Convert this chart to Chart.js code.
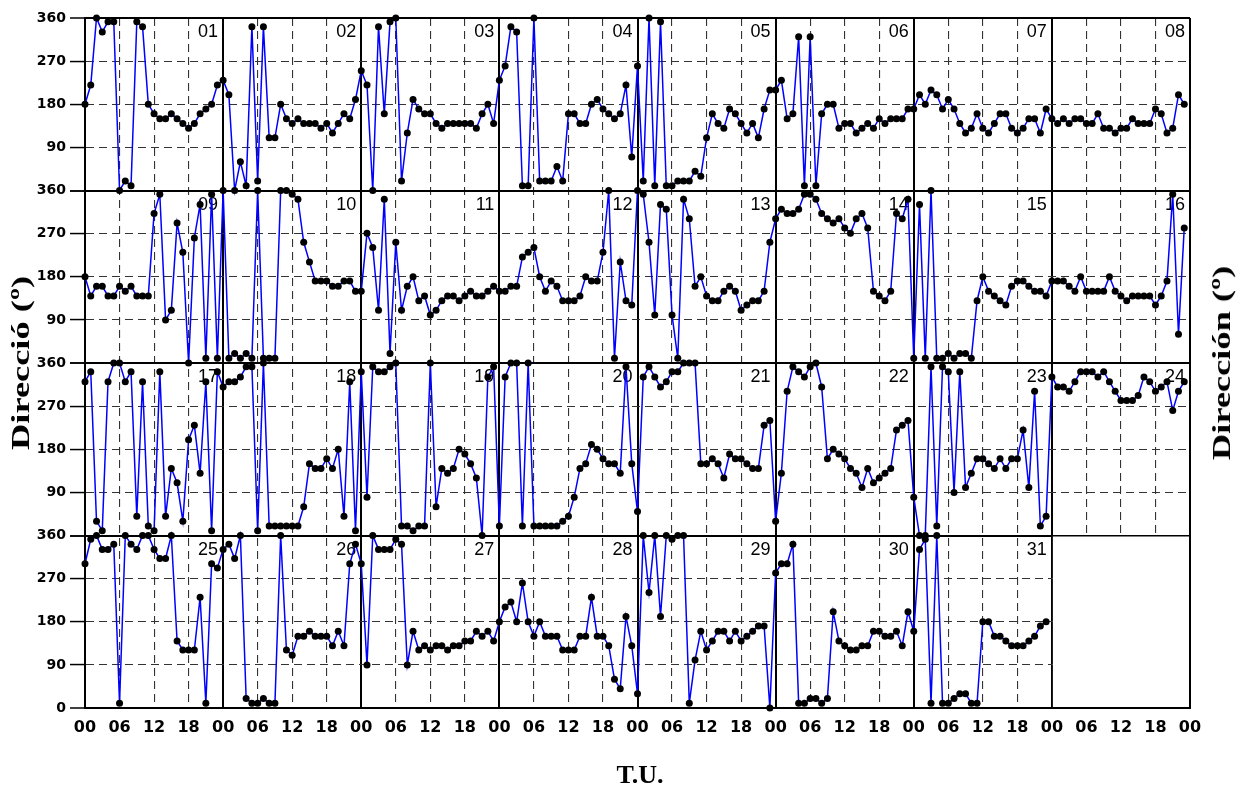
<!DOCTYPE html>
<html>
<head>
<meta charset="utf-8">
<script src="https://cdn.jsdelivr.net/npm/chart.js@4.4.0/dist/chart.umd.min.js"></script>
<style>
  body { margin: 0; background: #fff; }
  #wrap { position: relative; width: 1251px; height: 790px; }
  .title { position: absolute; font: bold 26px "Liberation Serif", "Times New Roman", serif; white-space: nowrap; color: #000; }
  #yl { left: 21px; top: 363px; transform: translate(-50%, -50%) rotate(-90deg) scaleX(1.4); }
  #yr { left: 1222px; top: 363px; transform: translate(-50%, -50%) rotate(-90deg) scaleX(1.4); }
  #xl { left: 640px; top: 775px; transform: translate(-50%, -50%); }
</style>
</head>
<body>
<div id="wrap">
  <canvas id="chart" width="1251" height="790"></canvas>
  <div class="title" id="yl">Direcció (º)</div>
  <div class="title" id="yr">Dirección (º)</div>
  <div class="title" id="xl">T.U.</div>
</div>
<script>
const hourLabels = ['00', '06', '12', '18'];
const dayNames = ['01','02','03','04','05','06','07','08','09','10','11','12','13','14','15','16',
                  '17','18','19','20','21','22','23','24','25','26','27','28','29','30','31'];

// wind direction (degrees), one value per hour, 00..23 T.U.
const d01 = [180,220,360,331,352,352,0,20,10,352,342,180,160,150,150,160,150,140,130,140,160,170,180,220];
const d02 = [230,200,0,60,10,342,20,342,110,110,180,150,140,150,140,140,140,130,140,120,140,160,150,190];
const d03 = [250,220,0,342,160,352,360,20,120,190,170,160,160,140,130,140,140,140,140,140,130,160,180,140];
const d04 = [230,260,342,331,10,10,360,20,20,20,50,20,160,160,140,140,180,190,170,160,150,160,220,70];
const d05 = [260,20,360,10,352,10,10,20,20,20,40,30,110,160,140,130,170,160,140,120,140,110,170,210];
const d06 = [210,230,150,160,321,10,321,10,160,180,180,130,140,140,120,130,140,130,150,140,150,150,150,170];
const d07 = [170,200,180,210,200,170,190,170,140,120,130,160,130,120,140,160,160,130,120,130,150,150,120,170];
const d08 = [150,140,150,140,150,150,140,140,160,130,130,120,130,130,150,140,140,140,170,160,120,130,200,180];
const d09 = [180,140,160,160,140,140,160,150,160,140,140,140,312,352,90,110,292,231,0,261,331,10,352,10];
const d10 = [360,10,20,10,20,10,360,10,10,10,360,360,352,342,252,211,171,171,171,160,160,171,171,150];
const d11 = [150,271,241,110,342,20,252,110,160,180,130,140,100,110,130,140,140,130,140,150,140,140,150,160];
const d12 = [150,150,160,160,221,231,241,180,150,171,160,130,130,130,140,180,171,171,231,360,10,211,130,121];
const d13 = [360,352,252,100,331,321,100,10,342,301,160,180,140,130,130,150,160,150,110,121,130,130,150,252];
const d14 = [301,321,312,312,321,352,352,342,312,301,292,301,282,271,301,312,282,150,140,130,150,312,301,342];
const d15 = [10,331,10,360,10,10,20,10,20,20,10,130,180,150,140,130,121,160,171,171,160,150,150,140];
const d16 = [171,171,171,160,150,180,150,150,150,150,180,150,140,130,140,140,140,140,121,140,171,352,60,282];
const d17 = [321,342,30,10,321,360,360,321,342,40,321,20,10,342,40,140,110,30,200,230,130,321,10,342];
const d18 = [310,321,321,331,352,352,10,360,20,20,20,20,20,20,60,150,140,140,160,140,180,40,321,10];
const d19 = [342,80,352,342,342,352,360,20,20,10,20,20,360,60,140,130,140,180,170,150,120,0,331,352];
const d20 = [20,331,360,360,20,360,20,20,20,20,20,30,40,80,140,150,190,180,160,150,150,130,352,150];
const d21 = [50,331,352,331,310,321,342,342,360,360,360,150,150,160,150,120,170,160,160,150,140,140,230,240];
const d22 = [30,130,301,352,342,331,352,360,310,160,180,170,160,140,130,100,140,110,120,130,140,220,230,240];
const d23 = [80,0,0,352,20,352,342,90,342,100,130,160,160,150,140,160,140,160,160,220,100,301,20,40];
const d24 = [331,310,310,301,321,342,342,342,331,342,321,301,282,282,282,292,331,321,301,310,321,261,301,321];
const d25 = [301,352,360,331,331,342,10,360,342,331,360,360,331,312,312,360,140,121,121,121,231,10,301,292];
const d26 = [331,342,312,360,20,10,10,20,10,10,360,121,110,150,150,160,150,150,150,130,160,130,301,342];
const d27 = [301,90,360,331,331,331,352,342,90,160,121,130,121,130,130,121,130,130,140,140,160,150,160,140];
const d28 = [180,211,221,180,261,180,150,180,150,150,150,121,121,121,150,150,231,150,150,130,60,40,191,130];
const d29 = [30,360,241,360,191,360,352,360,360,10,100,160,121,140,160,160,140,160,140,150,160,171,171,0];
const d30 = [282,301,301,342,10,10,20,20,10,20,201,140,130,121,121,130,130,160,160,150,150,160,130,201];
const d31 = [160,331,352,10,360,10,10,20,30,30,10,10,180,180,150,150,140,130,130,130,140,150,171,180];

const days = [d01,d02,d03,d04,d05,d06,d07,d08,d09,d10,d11,d12,d13,d14,d15,d16,
              d17,d18,d19,d20,d21,d22,d23,d24,d25,d26,d27,d28,d29,d30,d31];

const PER_ROW = 8;
const ROWS = 4;
const HOURS = PER_ROW * 24;

function rowPoints(r) {
  const pts = [];
  for (let c = 0; c < PER_ROW; c++) {
    const day = days[r * PER_ROW + c];
    if (!day) break;
    day.forEach((v, h) => pts.push({ x: c * 24 + h, y: v }));
  }
  return pts;
}

const tickFont = { family: 'DejaVu Sans', weight: 'bold', size: 14 };
const DASH = [8, 5];

const scales = {
  x: {
    type: 'linear', min: 0, max: HOURS,
    afterBuildTicks: s => {
      s.ticks = [];
      for (let v = 0; v <= HOURS; v += 6) s.ticks.push({ value: v });
    },
    ticks: {
      autoSkip: false, maxRotation: 0, padding: 10, color: '#000',
      font: { family: 'DejaVu Sans', weight: 'bold', size: 16 },
      callback: v => hourLabels[(v % 24) / 6]
    },
    grid: {
      drawTicks: false,
      color: c => c.tick && c.tick.value % 24 === 0 ? '#000' : '#333',
      lineWidth: c => c.tick && c.tick.value % 24 === 0 ? 2 : 1.1
    },
    border: { color: '#000', width: 2, dash: c => (!c.tick || c.tick.value % 24 === 0) ? [] : DASH },
    afterFit: s => { s.height = 82; }
  }
};

const datasets = [];
for (let r = 0; r < ROWS; r++) {
  const edge = c => c.tick && (c.tick.value === 0 || c.tick.value === 360);
  scales['y' + r] = {
    type: 'linear', position: 'left', stack: 'rows', stackWeight: 1, weight: ROWS - r,
    min: 0, max: 360,
    ticks: {
      stepSize: 90, padding: 4, color: '#000', font: tickFont,
      callback: v => (v === 0 && r < ROWS - 1) ? '' : v
    },
    grid: {
      tickLength: 15, tickColor: '#000', tickWidth: 1.5,
      color: c => edge(c) ? '#000' : '#333',
      lineWidth: c => edge(c) ? 2 : 1.1
    },
    border: { color: '#000', width: 2, dash: c => (!c.tick || edge(c)) ? [] : DASH },
    afterFit: s => { s.width = 85; }
  };
  datasets.push({
    data: rowPoints(r),
    yAxisID: 'y' + r,
    borderColor: '#0000ff',
    borderWidth: 1.5,
    pointRadius: 3.5,
    pointBackgroundColor: '#000',
    pointBorderWidth: 0,
    tension: 0,
    clip: false
  });
}

const panelPlugin = {
  id: 'panels',
  beforeDatasetsDraw(chart) {
    const { ctx } = chart;
    const x = chart.scales.x;
    const last = chart.scales['y' + (ROWS - 1)];
    ctx.save();
    // the eighth cell of the last row has no day: keep it empty
    const l = x.getPixelForValue(days.length % PER_ROW * 24) + 1;
    const rgt = x.getPixelForValue(HOURS) - 1;
    ctx.fillStyle = '#fff';
    ctx.fillRect(l, last.top + 1, rgt - l, last.bottom - last.top - 2);
    // day numbers
    ctx.font = '18px "Liberation Sans", Arial, sans-serif';
    ctx.fillStyle = '#000';
    ctx.textAlign = 'right';
    ctx.textBaseline = 'alphabetic';
    days.forEach((d, i) => {
      const r = Math.floor(i / PER_ROW), c = i % PER_ROW;
      const ys = chart.scales['y' + r];
      ctx.fillText(dayNames[i], x.getPixelForValue((c + 1) * 24) - 5, ys.top + 19);
    });
    ctx.restore();
  }
};

new Chart(document.getElementById('chart'), {
  type: 'line',
  data: { datasets },
  options: {
    responsive: false,
    animation: false,
    layout: { padding: { top: 18, right: 61, left: 0, bottom: 0 } },
    scales,
    plugins: { legend: { display: false }, tooltip: { enabled: false } }
  },
  plugins: [panelPlugin]
});
</script>
</body>
</html>
